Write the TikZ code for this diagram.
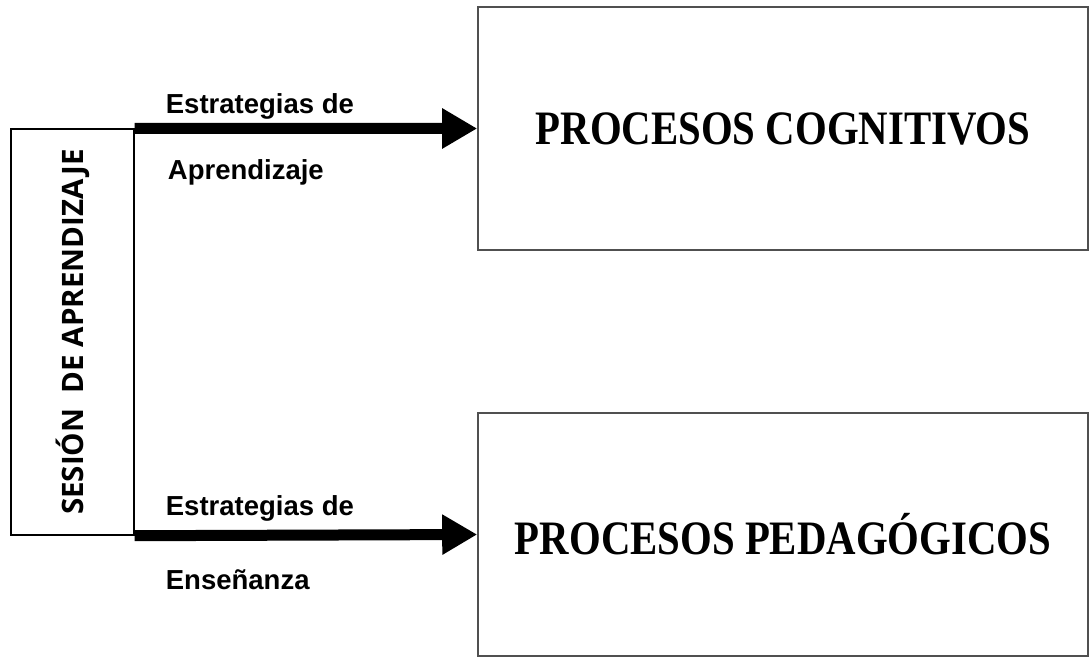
\documentclass[tikz,border=0pt]{standalone}
\usepackage{fontspec}
\usetikzlibrary{arrows.meta,positioning}
\newfontfamily\lblfont{Liberation Sans}
\newfontfamily\ttlfont{Liberation Serif}
\newfontfamily\sidefont{Open Sans}
\definecolor{boxgray}{HTML}{505050}
\newcommand{\proctitle}[1]{\scalebox{0.85}[1]{#1}}

\begin{document}
\begin{tikzpicture}[x=1pt,y=-1pt,
		procbox/.style={draw=boxgray,line width=1.6pt,minimum width=610pt,minimum height=243pt,inner sep=0pt,font=\ttlfont\bfseries\fontsize{48}{52}\selectfont},
		sidebox/.style={draw=black,line width=1.4pt,minimum width=123pt,minimum height=406pt,inner sep=0pt},
		lbl/.style={anchor=west,inner sep=0pt,font=\lblfont\bfseries\fontsize{27.5}{30}\selectfont},
		bigarrow/.style={line width=11pt,-{Triangle[length=35pt,width=38pt]}}]
	\useasboundingbox (0,0) rectangle (1091,657);
	\node[sidebox] (sesion) at (72.5,332) {};
	\node[rotate=90,font=\sidefont\bfseries\fontsize{29.5}{32}\selectfont] (sesiontxt) at (sesion.center) {SESIÓN~~DE APRENDIZAJE};
	\node[procbox] (cognitivos) at (783,128.5) {\proctitle{PROCESOS COGNITIVOS}};
	\node[procbox] (pedagogicos) at (783,534.5) {\raisebox{-10pt}{\proctitle{PROCESOS PEDAGÓGICOS}}};
	\draw[bigarrow] (sesion.north east) -- (cognitivos.west);
	\draw[bigarrow] (sesion.south east) -- (pedagogicos.west);
	\node[lbl] (estA) at ([xshift=31pt,yshift=22pt]sesion.north east) {Estrategias de};
	\node[lbl] (aprend) at ([xshift=33pt,yshift=-44pt]sesion.north east) {Aprendizaje};
	\node[lbl] (estE) at ([xshift=31pt,yshift=27pt]sesion.south east) {Estrategias de};
	\node[lbl] (ensen) at ([xshift=31pt,yshift=-44pt]sesion.south east) {Enseñanza};
\end{tikzpicture}
\end{document}
